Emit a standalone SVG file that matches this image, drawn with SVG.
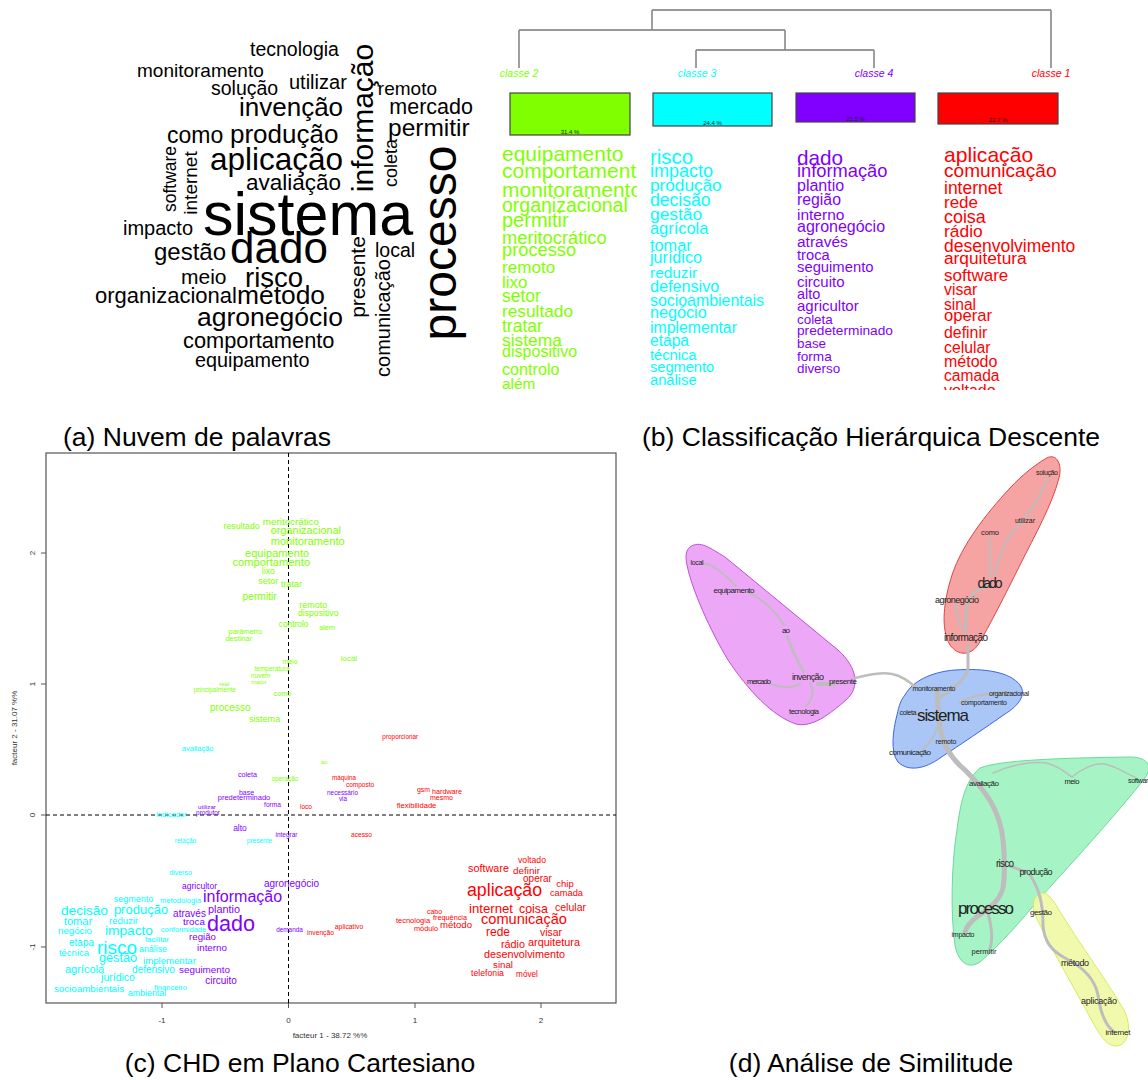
<svg xmlns="http://www.w3.org/2000/svg" width="1148" height="1080" viewBox="0 0 1148 1080">
<style>
text{font-family:"Liberation Sans",Arial,sans-serif}
.k{fill:#000}
.m{text-anchor:middle;dominant-baseline:central}
.g{fill:#7FFF00}.c{fill:#00FFFF}.p{fill:#8000FF}.r{fill:#FF0000}
.cap{font-size:26.5px;fill:#000}
.ax{fill:#333;font-size:8px}
.dl{fill:#222;text-anchor:middle;dominant-baseline:central}
.hl{stroke:#333;stroke-width:1;fill:none}
.vl{stroke:#888;stroke-width:1.6;fill:none}
.bx{stroke:#444;stroke-width:1.2}
.pc{font-size:6px;fill:#222;text-anchor:middle}
.cl{font-size:10.5px;font-style:italic;text-anchor:middle}
.e{stroke:#BDBDBD;fill:none;stroke-linecap:round}
</style>
<defs>
<clipPath id="clipG"><rect x="490" y="140" width="147" height="250"/></clipPath>
<clipPath id="clipB"><rect x="490" y="140" width="658" height="250"/></clipPath>
</defs>
<rect width="1148" height="1080" fill="#fff"/>

<!-- (a) word cloud -->
<g id="panel-a" class="k">
<text x="250" y="56" font-size="19.5">tecnologia</text>
<text x="137" y="77" font-size="19">monitoramento</text>
<text x="211" y="95" font-size="19.5">solução</text>
<text x="289" y="89" font-size="20">utilizar</text>
<text x="437" y="95" font-size="19" text-anchor="end">remoto</text>
<text x="473" y="114" font-size="21.5" text-anchor="end">mercado</text>
<text x="239" y="116" font-size="26">invenção</text>
<text x="167" y="143" font-size="23">como</text>
<text x="230" y="143" font-size="26">produção</text>
<text x="388" y="136" font-size="24.5">permitir</text>
<text x="210" y="170" font-size="31.5">aplicação</text>
<text x="246" y="190" font-size="22.5">avaliação</text>
<text x="203" y="235" font-size="61">sistema</text>
<text x="123" y="235" font-size="20">impacto</text>
<text x="154" y="260" font-size="24">gestão</text>
<text x="230" y="263" font-size="44">dado</text>
<text x="375" y="257" font-size="19.5">local</text>
<text x="181" y="284" font-size="21">meio</text>
<text x="245" y="287" font-size="27.5">risco</text>
<text x="95" y="303" font-size="22">organizacional</text>
<text x="237" y="304" font-size="26.4">método</text>
<text x="197" y="326" font-size="26.5">agronegócio</text>
<text x="183" y="348" font-size="21.8">comportamento</text>
<text x="195" y="367" font-size="19.8">equipamento</text>
<text transform="translate(373,118) rotate(-90)" text-anchor="middle" font-size="30">informação</text>
<text transform="translate(397,163) rotate(-90)" text-anchor="middle" font-size="18">coleta</text>
<text transform="translate(176,179) rotate(-90)" text-anchor="middle" font-size="17.5">software</text>
<text transform="translate(197,183) rotate(-90)" text-anchor="middle" font-size="19">internet</text>
<text transform="translate(456,243) rotate(-90)" text-anchor="middle" font-size="48">processo</text>
<text transform="translate(365,277) rotate(-90)" text-anchor="middle" font-size="21">presente</text>
<text transform="translate(390,318) rotate(-90)" text-anchor="middle" font-size="20">comunicação</text>
</g>

<!-- (b) CHD -->
<g id="dendrogram-connectors">
<path class="hl" d="M652,10 H1051 M519,30 H785 M696,50 H874"/>
<path class="vl" d="M652,10 V30 M519,30 V68 M785,30 V50 M696,50 V68 M874,50 V68 M1051,10 V68"/>
</g>
<g id="classe-2">
<text class="cl g" x="519" y="77">classe 2</text>
<rect class="bx" x="510" y="93" width="120" height="42" fill="#7FFF00"/>
<text class="pc" x="570" y="134">31.4 %</text>
<g clip-path="url(#clipG)" class="g">
<text x="502" y="161" font-size="21">equipamento</text>
<text x="502" y="178" font-size="21">comportamento</text>
<text x="502" y="197" font-size="21">monitoramento</text>
<text x="502" y="212" font-size="19.5">organizacional</text>
<text x="502" y="227" font-size="20">permitir</text>
<text x="502" y="244" font-size="18.3">meritocrático</text>
<text x="502" y="256" font-size="18.3">processo</text>
<text x="502" y="273" font-size="17.1">remoto</text>
<text x="502" y="288" font-size="17">lixo</text>
<text x="502" y="302" font-size="17.5">setor</text>
<text x="502" y="317" font-size="17.3">resultado</text>
<text x="502" y="332" font-size="17.5">tratar</text>
<text x="502" y="346" font-size="17.4">sistema</text>
<text x="502" y="357" font-size="16.1">dispositivo</text>
<text x="502" y="375" font-size="16.2">controlo</text>
<text x="502" y="389" font-size="15.4">além</text>
</g>
</g>
<g id="classe-3">
<text class="cl c" x="697" y="77">classe 3</text>
<rect class="bx" x="653" y="93" width="119" height="33" fill="#00FFFF"/>
<text class="pc" x="712.5" y="125">24.4 %</text>
<g clip-path="url(#clipB)" class="c">
<text x="650" y="164" font-size="20.4">risco</text>
<text x="650" y="177" font-size="18">impacto</text>
<text x="650" y="191" font-size="17.2">produção</text>
<text x="650" y="206" font-size="17.6">decisão</text>
<text x="650" y="220" font-size="17.4">gestão</text>
<text x="650" y="234" font-size="16.4">agrícola</text>
<text x="650" y="251" font-size="16.3">tomar</text>
<text x="650" y="263" font-size="16.1">jurídico</text>
<text x="650" y="278" font-size="15.4">reduzir</text>
<text x="650" y="292" font-size="16.2">defensivo</text>
<text x="650" y="306" font-size="15.9">socioambientais</text>
<text x="650" y="318" font-size="16.2">negócio</text>
<text x="650" y="333" font-size="15.8">implementar</text>
<text x="650" y="346" font-size="15.6">etapa</text>
<text x="650" y="360" font-size="14.7">técnica</text>
<text x="650" y="372" font-size="14.6">segmento</text>
<text x="650" y="385" font-size="14.7">análise</text>
</g>
</g>
<g id="classe-4">
<text class="cl p" x="874" y="77">classe 4</text>
<rect class="bx" x="796" y="93" width="119" height="29" fill="#8000FF"/>
<text class="pc" x="855.5" y="121">21.5 %</text>
<g clip-path="url(#clipB)" class="p">
<text x="797" y="165" font-size="20.7">dado</text>
<text x="797" y="177" font-size="18.3">informação</text>
<text x="797" y="191" font-size="16">plantio</text>
<text x="797" y="205" font-size="15.8">região</text>
<text x="797" y="220" font-size="15.5">interno</text>
<text x="797" y="232" font-size="16">agronegócio</text>
<text x="797" y="247" font-size="15.5">através</text>
<text x="797" y="260" font-size="14.7">troca</text>
<text x="797" y="272" font-size="14.8">seguimento</text>
<text x="797" y="287" font-size="15">circuito</text>
<text x="797" y="299" font-size="14.5">alto</text>
<text x="797" y="311" font-size="15">agricultor</text>
<text x="797" y="324" font-size="13.4">coleta</text>
<text x="797" y="335" font-size="13.7">predeterminado</text>
<text x="797" y="348" font-size="13.4">base</text>
<text x="797" y="361" font-size="13.6">forma</text>
<text x="797" y="373" font-size="13.4">diverso</text>
</g>
</g>
<g id="classe-1">
<text class="cl r" x="1051" y="77">classe 1</text>
<rect class="bx" x="938" y="93" width="120" height="31" fill="#FF0000"/>
<text class="pc" x="998" y="122">22.7 %</text>
<g clip-path="url(#clipB)" class="r">
<text x="944" y="162" font-size="21.1">aplicação</text>
<text x="944" y="177" font-size="19.1">comunicação</text>
<text x="944" y="194" font-size="17.5">internet</text>
<text x="944" y="208" font-size="17">rede</text>
<text x="944" y="223" font-size="17.9">coisa</text>
<text x="944" y="237" font-size="17.4">rádio</text>
<text x="944" y="252" font-size="17.5">desenvolvimento</text>
<text x="944" y="264" font-size="17.3">arquitetura</text>
<text x="944" y="281" font-size="17">software</text>
<text x="944" y="295" font-size="15.8">visar</text>
<text x="944" y="310" font-size="15.6">sinal</text>
<text x="944" y="321" font-size="16.6">operar</text>
<text x="944" y="338" font-size="15.9">definir</text>
<text x="944" y="353" font-size="15.8">celular</text>
<text x="944" y="367" font-size="16">método</text>
<text x="944" y="381" font-size="15.6">camada</text>
<text x="944" y="396" font-size="16">voltado</text>
</g>
</g>

<!-- (c) plane -->
<g id="panel-c">
<rect x="46" y="453" width="570" height="550" fill="none" stroke="#555" stroke-width="1.2"/>
<path d="M288.5,453 V1003 M46,815 H616" stroke="#000" stroke-width="1" stroke-dasharray="4,3" fill="none"/>
<path d="M162,1003 v5 M288.5,1003 v5 M415,1003 v5 M541,1003 v5 M46,947 h-5 M46,815 h-5 M46,684 h-5 M46,553 h-5" stroke="#555" stroke-width="1"/>
<g class="ax" text-anchor="middle">
<text x="162" y="1023">-1</text><text x="288.5" y="1023">0</text><text x="415" y="1023">1</text><text x="541" y="1023">2</text>
<text transform="translate(35,947) rotate(-90)">-1</text>
<text transform="translate(35,815) rotate(-90)">0</text>
<text transform="translate(35,684) rotate(-90)">1</text>
<text transform="translate(35,553) rotate(-90)">2</text>
<text x="330" y="1038">facteur 1 - 38.72 %%</text>
<text transform="translate(17,728) rotate(-90)">facteur 2 - 31.07 %%</text>
</g>
<g class="m g">
<text x="241.6" y="526" font-size="8.8">resultado</text>
<text x="290.9" y="521" font-size="9.8">meritocrático</text>
<text x="305.9" y="530" font-size="10.9">organizacional</text>
<text x="307.7" y="541" font-size="11.1">monitoramento</text>
<text x="277.1" y="553" font-size="11.1">equipamento</text>
<text x="271.3" y="562" font-size="11.2">comportamento</text>
<text x="268.4" y="571" font-size="8.8">lixo</text>
<text x="268.2" y="581" font-size="9">setor</text>
<text x="291.6" y="584" font-size="9">tratar</text>
<text x="259.6" y="596" font-size="10.3">permitir</text>
<text x="313.2" y="605" font-size="9">remoto</text>
<text x="318.2" y="613" font-size="8.7">dispositivo</text>
<text x="293.6" y="624" font-size="8.4">controlo</text>
<text x="327.1" y="627" font-size="7.3">além</text>
<text x="245.4" y="631" font-size="7.4">parâmetro</text>
<text x="238.8" y="638" font-size="7.5">destinar</text>
<text x="348.9" y="658" font-size="8">local</text>
<text x="290" y="661" font-size="6.9">meio</text>
<text x="272" y="668" font-size="6.5">temperatura</text>
<text x="260.7" y="675" font-size="6.4">nuvem</text>
<text x="258.8" y="681" font-size="6.1">maior</text>
<text x="224.3" y="684" font-size="6">real</text>
<text x="214.8" y="689" font-size="6.5">principalmente</text>
<text x="282.5" y="693" font-size="7.3">como</text>
<text x="230.2" y="707" font-size="10">processo</text>
<text x="264.6" y="719" font-size="9.1">sistema</text>
<text x="324.3" y="762" font-size="5.8">ao</text>
<text x="285" y="778" font-size="6.4">operação</text>
</g>
<g class="m c">
<text x="197.7" y="748" font-size="7.5">avaliação</text>
<text x="171.5" y="814" font-size="7.5">indicador</text>
<text x="185.5" y="840" font-size="6.5">relação</text>
<text x="259.5" y="840" font-size="6.5">presente</text>
<text x="180.5" y="872" font-size="7">diverso</text>
<text x="133.5" y="899" font-size="9">segmento</text>
<text x="180.5" y="900" font-size="7.5">metodologia</text>
<text x="84.5" y="910" font-size="13.6">decisão</text>
<text x="141" y="909" font-size="13">produção</text>
<text x="78" y="921" font-size="11">tomar</text>
<text x="123.5" y="920" font-size="9.5">reduzir</text>
<text x="75" y="930" font-size="9.7">negócio</text>
<text x="129" y="930" font-size="13.7">impacto</text>
<text x="183.5" y="929" font-size="7.5">conformidade</text>
<text x="81.5" y="942" font-size="10">etapa</text>
<text x="117" y="947" font-size="19">risco</text>
<text x="157" y="939" font-size="7.6">facilitar</text>
<text x="153" y="949" font-size="8.8">análise</text>
<text x="74" y="952" font-size="9.5">técnica</text>
<text x="118" y="958" font-size="12.7">gestão</text>
<text x="169.5" y="960" font-size="9.6">implementar</text>
<text x="84.5" y="969" font-size="11">agrícola</text>
<text x="153.5" y="969" font-size="10">defensivo</text>
<text x="118" y="977" font-size="10.5">jurídico</text>
<text x="89" y="988" font-size="9.8">socioambientais</text>
<text x="170.5" y="987" font-size="7.6">financeiro</text>
<text x="147" y="993" font-size="8.8">ambiental</text>
</g>
<g class="m p">
<text x="247.5" y="774" font-size="7.2">coleta</text>
<text x="342.5" y="792" font-size="6.4">necessário</text>
<text x="343" y="798" font-size="6.3">via</text>
<text x="246.5" y="792" font-size="7">base</text>
<text x="244" y="797" font-size="7.5">predeterminado</text>
<text x="272.5" y="804" font-size="6.6">forma</text>
<text x="207" y="806" font-size="6.2">utilizar</text>
<text x="208" y="812" font-size="6.4">produtor</text>
<text x="240" y="828" font-size="8.5">alto</text>
<text x="286.5" y="834" font-size="6.5">integrar</text>
<text x="199.5" y="886" font-size="8.5">agricultor</text>
<text x="291.5" y="883" font-size="10">agronegócio</text>
<text x="242.5" y="896" font-size="16">informação</text>
<text x="189.5" y="913" font-size="10">através</text>
<text x="224" y="909" font-size="10.9">plantio</text>
<text x="231" y="923" font-size="21.6">dado</text>
<text x="194" y="921" font-size="9.9">troca</text>
<text x="202.5" y="936" font-size="9.7">região</text>
<text x="289.5" y="929" font-size="6.4">demanda</text>
<text x="212" y="947" font-size="9.8">interno</text>
<text x="204.5" y="969" font-size="9.9">seguimento</text>
<text x="221" y="980" font-size="10">circuito</text>
</g>
<g class="m r">
<text x="400.3" y="736" font-size="6.4">proporcionar</text>
<text x="344" y="777" font-size="6.3">máquina</text>
<text x="360" y="784" font-size="6.5">composto</text>
<text x="423.5" y="789" font-size="6.9">gsm</text>
<text x="447" y="791" font-size="7.2">hardware</text>
<text x="441.5" y="797" font-size="7">mesmo</text>
<text x="416.5" y="805" font-size="7.6">flexibilidade</text>
<text x="306" y="806" font-size="6.5">loco</text>
<text x="361.5" y="834" font-size="6.6">acesso</text>
<text x="320.5" y="932" font-size="6.7">invenção</text>
<text x="349" y="926" font-size="6.8">aplicativo</text>
<text x="532" y="860" font-size="8.7">voltado</text>
<text x="488.5" y="868" font-size="10.8">software</text>
<text x="526.5" y="870" font-size="9.9">definir</text>
<text x="537.5" y="878" font-size="10">operar</text>
<text x="565" y="883" font-size="9.5">chip</text>
<text x="504.5" y="890" font-size="17.8">aplicação</text>
<text x="566.5" y="893" font-size="9.3">camada</text>
<text x="434.5" y="911" font-size="6.9">cabo</text>
<text x="450" y="917" font-size="7.3">frequência</text>
<text x="413" y="920" font-size="7.5">tecnologia</text>
<text x="426" y="928" font-size="7.3">módulo</text>
<text x="456" y="924" font-size="9.6">método</text>
<text x="491" y="908" font-size="13.2">internet</text>
<text x="533.5" y="909" font-size="12.4">coisa</text>
<text x="570.5" y="907" font-size="10.5">celular</text>
<text x="524" y="919" font-size="14.6">comunicação</text>
<text x="498" y="932" font-size="12">rede</text>
<text x="551" y="932" font-size="10.4">visar</text>
<text x="513" y="944" font-size="10.8">rádio</text>
<text x="554" y="942" font-size="10.9">arquitetura</text>
<text x="524.5" y="954" font-size="10.8">desenvolvimento</text>
<text x="503" y="964" font-size="9.7">sinal</text>
<text x="487.5" y="973" font-size="8.7">telefonia</text>
<text x="527" y="974" font-size="8.2">móvel</text>
</g>
</g>

<!-- (d) similitude -->
<g id="cluster-purple"><path d="M690,547 C700,540 710,548 725,557 L838,650 C858,668 860,688 846,700 C830,714 812,728 796,724 C772,716 748,690 728,660 C710,630 692,590 687,565 C685,556 686,550 690,547 Z" fill="#ECA8F6" stroke="#C24ED6" stroke-width="1"/></g>
<g id="cluster-red"><path d="M1045,459 C1055,452 1063,462 1059,478 C1052,505 1035,535 1020,565 C1005,595 990,625 978,645 C970,656 958,656 950,645 C940,628 944,600 952,575 C962,545 985,515 1010,488 C1022,475 1035,465 1045,459 Z" fill="#F5A3A3" stroke="#E04545" stroke-width="1"/></g>
<g id="cluster-blue"><path d="M905,695 C912,682 930,672 955,670 C985,668 1010,672 1020,685 C1027,695 1018,706 1005,714 C985,728 960,745 940,758 C925,769 908,772 898,762 C890,752 893,730 897,715 C899,705 901,700 905,695 Z" fill="#A9C6F7" stroke="#3F66E0" stroke-width="1"/></g>
<g id="cluster-green"><path d="M980,768 C1000,760 1060,758 1130,757 C1150,757 1152,768 1145,778 C1120,810 1075,860 1040,898 C1020,922 1000,945 980,962 C968,970 958,962 955,945 C950,910 952,860 957,830 C960,805 965,780 980,768 Z" fill="#A6F4C6" stroke="#6CD99A" stroke-width="1"/></g>
<g id="cluster-yellow"><path d="M1036,897 C1042,888 1050,895 1056,905 C1080,945 1110,985 1125,1012 C1132,1028 1128,1045 1117,1046 C1105,1047 1097,1030 1090,1017 C1075,990 1055,955 1040,925 C1033,912 1031,902 1036,897 Z" fill="#EFFAA3" fill-opacity="0.9" stroke="#D4EC62" stroke-width="1"/></g>

<g id="similitude-connectors" class="e">
<path stroke-width="2" d="M703,563 C716,565 728,578 736,586"/>
<path stroke-width="2" d="M748,592 C765,600 778,615 784,625"/>
<path stroke-width="2.5" d="M787,636 C792,650 798,662 804,672"/>
<path stroke-width="2" d="M770,684 C780,688 792,688 800,684"/>
<path stroke-width="2" d="M810,683 C815,692 812,700 806,706"/>
<path stroke-width="4" d="M818,684 L834,684"/>
<path stroke-width="2.5" d="M855,678 C868,675 880,672 892,674 C902,676 910,682 916,688"/>
<path stroke-width="3" d="M968,645 L968,668 C967,680 950,690 940,698"/>
<path stroke-width="3" d="M966,632 C964,615 966,600 975,592 C980,588 985,586 990,585"/>
<path stroke-width="2" d="M962,630 C958,620 955,610 956,604"/>
<path stroke-width="2" d="M990,577 C990,560 990,548 990,538"/>
<path stroke-width="2" d="M995,575 C1000,550 1010,532 1022,522 C1035,505 1045,490 1047,478"/>
<path stroke-width="2.5" d="M960,703 C968,697 980,695 995,693 L1010,692"/>
<path stroke-width="2" d="M912,714 L925,714"/>
<path stroke-width="2" d="M937,728 C934,738 928,745 922,750"/>
<path stroke-width="5" d="M937,690 C938,700 938,715 940,728 C943,745 950,758 965,770 C985,790 1000,810 1003,840 C1005,860 1005,875 1003,888 C1000,900 990,908 978,916 C970,922 966,928 965,932"/>
<path stroke-width="3" d="M987,910 C992,925 993,940 990,948"/>
<path stroke-width="3" d="M1010,866 L1026,872"/>
<path stroke-width="3" d="M1030,875 C1040,890 1043,905 1043,925 C1044,940 1050,950 1065,958 C1085,968 1095,980 1098,995 C1100,1010 1105,1025 1114,1032"/>
<path stroke-width="1.5" d="M993,773 C1010,765 1035,760 1050,764 C1062,768 1068,775 1072,777 C1080,770 1095,762 1105,764 C1118,767 1128,775 1135,777"/>
</g>

<g id="similitude-labels">
<text class="dl" x="1047" y="472" font-size="7" textLength="22">solução</text>
<text class="dl" x="1025" y="520" font-size="7" textLength="20">utilizar</text>
<text class="dl" x="990" y="532" font-size="7.5" textLength="18">como</text>
<text class="dl" x="990" y="583" font-size="14" textLength="25">dado</text>
<text class="dl" x="957" y="600" font-size="9" textLength="44">agronegócio</text>
<text class="dl" x="966" y="637" font-size="10" textLength="44">informação</text>
<text class="dl" x="697" y="562" font-size="7" textLength="13">local</text>
<text class="dl" x="734" y="590" font-size="8" textLength="41">equipamento</text>
<text class="dl" x="786" y="630" font-size="8" textLength="8">ao</text>
<text class="dl" x="808" y="677" font-size="9" textLength="32">invenção</text>
<text class="dl" x="843" y="681" font-size="8" textLength="28">presente</text>
<text class="dl" x="759" y="681" font-size="7.5" textLength="24">mercado</text>
<text class="dl" x="804" y="711" font-size="7.5" textLength="30">tecnologia</text>
<text class="dl" x="934" y="688" font-size="7" textLength="43">monitoramento</text>
<text class="dl" x="1009" y="693" font-size="7" textLength="40">organizacional</text>
<text class="dl" x="984" y="702" font-size="7" textLength="46">comportamento</text>
<text class="dl" x="908" y="712" font-size="7" textLength="17">coleta</text>
<text class="dl" x="943" y="715" font-size="17" textLength="52">sistema</text>
<text class="dl" x="946" y="741" font-size="7" textLength="21">remoto</text>
<text class="dl" x="910" y="752" font-size="8" textLength="42">comunicação</text>
<text class="dl" x="984" y="783" font-size="8" textLength="30">avaliação</text>
<text class="dl" x="1072" y="781" font-size="7.5" textLength="15">meio</text>
<text x="1128" y="780" font-size="7" fill="#222" dominant-baseline="central" textLength="24">software</text>
<text class="dl" x="1005" y="863" font-size="10" textLength="18">risco</text>
<text class="dl" x="1036" y="872" font-size="9" textLength="33">produção</text>
<text class="dl" x="986" y="908" font-size="17" textLength="56">processo</text>
<text class="dl" x="1041" y="912" font-size="8" textLength="22">gestão</text>
<text class="dl" x="963" y="934" font-size="7" textLength="23">impacto</text>
<text class="dl" x="984" y="951" font-size="7.5" textLength="25">permitir</text>
<text class="dl" x="1075" y="963" font-size="9" textLength="28">método</text>
<text class="dl" x="1099" y="1001" font-size="9" textLength="36">aplicação</text>
<text class="dl" x="1118" y="1032" font-size="8" textLength="25">internet</text>
</g>

<!-- captions -->
<g id="captions">
<text class="cap" x="63" y="446">(a) Nuvem de palavras</text>
<text class="cap" x="642" y="446">(b) Classificação Hierárquica Descente</text>
<text class="cap" x="300" y="1072" text-anchor="middle">(c) CHD em Plano Cartesiano</text>
<text class="cap" x="871" y="1072" text-anchor="middle">(d) Análise de Similitude</text>
</g>
</svg>
